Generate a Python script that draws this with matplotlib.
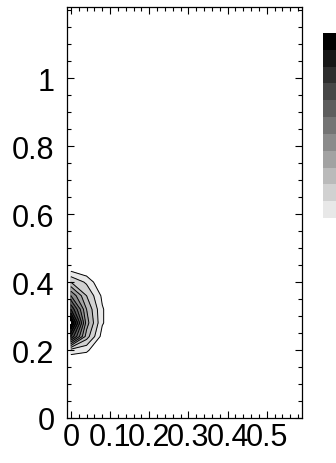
import numpy as np
import matplotlib
matplotlib.use("Agg")
import matplotlib.pyplot as plt
from matplotlib.colors import ListedColormap, BoundaryNorm
from matplotlib.ticker import MultipleLocator, FixedLocator

plt.rcParams['font.family'] = ['Liberation Sans', 'DejaVu Sans']

# sample grid (x, y) and measured intensity
x_vals = [0.00, 0.04, 0.08, 0.12]
y_vals = [0.12, 0.16, 0.20, 0.24, 0.28, 0.32, 0.36, 0.40, 0.44, 0.48]
z_x000 = [0.00, 0.00, 0.15, 0.90, 1.25, 0.90, 0.60, 0.30, 0.05, 0.00]
z_x004 = [0.00, 0.00, 0.12, 0.35, 0.45, 0.40, 0.30, 0.18, 0.00, 0.00]
z_x008 = [0.00, 0.00, 0.00, 0.06, 0.11, 0.11, 0.08, 0.00, 0.00, 0.00]
z_x012 = [0.00, 0.00, 0.00, 0.00, 0.00, 0.00, 0.00, 0.00, 0.00, 0.00]

levels = [0.1, 0.2, 0.3, 0.4, 0.5, 0.6, 0.7, 0.8, 0.9, 1.0, 1.1, 1.2]
x_ticks = [0, 0.1, 0.2, 0.3, 0.4, 0.5]
x_ticklabels = ['0', '0.1', '0.2', '0.3', '0.4', '0.5']
y_ticks = [0, 0.2, 0.4, 0.6, 0.8, 1.0]
y_ticklabels = ['0', '0.2', '0.4', '0.6', '0.8', '1']

Z = np.array([z_x000, z_x004, z_x008, z_x012]).T
X, Y = np.meshgrid(x_vals, y_vals)

greys = np.linspace(0.91, 0.0, len(levels) - 1)
cmap = ListedColormap([(g, g, g) for g in greys])
norm = BoundaryNorm(levels, cmap.N)

fig = plt.figure(figsize=(3.36, 4.64), dpi=100)
ax = fig.add_axes([67 / 336, 45 / 464, 235 / 336, 411 / 464])

cf = ax.contourf(X, Y, Z, levels=levels, cmap=cmap, norm=norm)
ax.contour(X, Y, Z, levels=levels, colors='black', linewidths=0.7)

ax.set_xlim(-0.01, 0.59)
ax.set_ylim(0, 1.21)
ax.xaxis.set_major_locator(FixedLocator(x_ticks))
ax.set_xticklabels(x_ticklabels)
ax.yaxis.set_major_locator(FixedLocator(y_ticks))
ax.set_yticklabels(y_ticklabels)
ax.xaxis.set_minor_locator(MultipleLocator(0.02))
ax.yaxis.set_minor_locator(MultipleLocator(0.05))

ax.tick_params(which='both', direction='in', top=True, right=True,
               labelsize=22, width=0.8)
ax.tick_params(which='major', length=5)
ax.tick_params(which='minor', length=3)
ax.tick_params(axis='y', pad=9)
ax.tick_params(axis='x', pad=3)
for s in ax.spines.values():
    s.set_linewidth(0.9)

cax = fig.add_axes([323 / 336, (464 - 219) / 464, 20 / 336, 185 / 464])
cb = fig.colorbar(cf, cax=cax)
cb.outline.set_visible(False)
cax.set_yticks([])
cax.tick_params(length=0)

fig.savefig("out.png", dpi=100)
